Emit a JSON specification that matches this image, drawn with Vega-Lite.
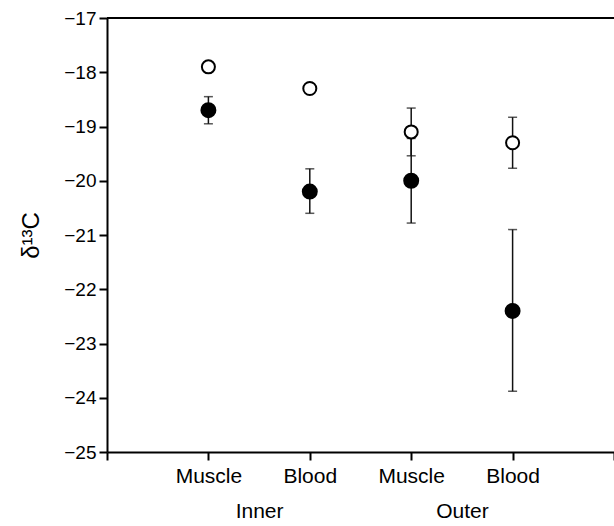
{
  "$schema": "https://vega.github.io/schema/vega-lite/v6.json",
  "width": 507,
  "height": 434,
  "autosize": {"type": "none"},
  "padding": {"left": 107, "top": 18, "right": 0, "bottom": 74},
  "config": {
    "view": {"stroke": null},
    "font": "Liberation Sans",
    "axis": {
      "grid": false,
      "domainColor": "black",
      "domainWidth": 2,
      "tickColor": "black",
      "tickWidth": 2,
      "labelColor": "black",
      "titleColor": "black",
      "titleFontWeight": "normal"
    }
  },
  "datasets": {
    "stats": [
      {"site": "Inner", "tissue": "Muscle", "pos": 1, "type": "open", "mean": -17.9, "lo": -17.96, "hi": -17.84},
      {"site": "Inner", "tissue": "Blood", "pos": 2, "type": "open", "mean": -18.3, "lo": -18.36, "hi": -18.24},
      {"site": "Outer", "tissue": "Muscle", "pos": 3, "type": "open", "mean": -19.1, "lo": -19.54, "hi": -18.66},
      {"site": "Outer", "tissue": "Blood", "pos": 4, "type": "open", "mean": -19.3, "lo": -19.77, "hi": -18.83},
      {"site": "Inner", "tissue": "Muscle", "pos": 1, "type": "filled", "mean": -18.7, "lo": -18.95, "hi": -18.45},
      {"site": "Inner", "tissue": "Blood", "pos": 2, "type": "filled", "mean": -20.2, "lo": -20.6, "hi": -19.78},
      {"site": "Outer", "tissue": "Muscle", "pos": 3, "type": "filled", "mean": -20.0, "lo": -20.78, "hi": -19.22},
      {"site": "Outer", "tissue": "Blood", "pos": 4, "type": "filled", "mean": -22.4, "lo": -23.88, "hi": -20.9}
    ],
    "groups": [
      {"x": 1.5, "group": "Inner"},
      {"x": 3.5, "group": "Outer"}
    ],
    "frame": [{"y": -17}]
  },
  "layer": [
    {
      "data": {"name": "frame"},
      "mark": {"type": "rule", "strokeWidth": 2, "color": "black"},
      "encoding": {
        "y": {
          "field": "y",
          "type": "quantitative",
          "scale": {"domain": [-25, -17], "nice": false, "zero": false},
          "title": "δ¹³C",
          "axis": {
            "values": [-25, -24, -23, -22, -21, -20, -19, -18, -17],
            "tickSize": 8,
            "labelPadding": 3,
            "labelFontSize": 19,
            "titleFontSize": 24,
            "titlePadding": 20
          }
        }
      }
    },
    {
      "data": {"name": "stats"},
      "mark": {
        "type": "errorbar",
        "color": "#111111",
        "ticks": {"size": 9, "thickness": 1.5},
        "rule": {"strokeWidth": 1.5}
      },
      "encoding": {
        "x": {"field": "pos", "type": "quantitative", "scale": {"domain": [0, 5], "nice": false}, "axis": null},
        "y": {"field": "lo", "type": "quantitative", "title": "δ¹³C"},
        "y2": {"field": "hi"}
      }
    },
    {
      "data": {"name": "stats"},
      "mark": {"type": "point", "shape": "circle", "filled": false, "stroke": "black", "strokeWidth": 2, "opacity": 1},
      "encoding": {
        "x": {
          "field": "pos",
          "type": "quantitative",
          "scale": {"domain": [0, 5], "nice": false},
          "title": null,
          "axis": {
            "orient": "bottom",
            "values": [0, 1, 2, 3, 4, 5],
            "labelExpr": "datum.value == 1 || datum.value == 3 ? 'Muscle' : (datum.value == 2 || datum.value == 4 ? 'Blood' : '')",
            "tickSize": 8,
            "labelPadding": 5,
            "labelFontSize": 21
          }
        },
        "y": {"field": "mean", "type": "quantitative", "title": "δ¹³C"},
        "fill": {
          "field": "type",
          "type": "nominal",
          "scale": {"domain": ["filled", "open"], "range": ["black", "white"]},
          "legend": null
        },
        "size": {
          "field": "type",
          "type": "nominal",
          "scale": {"domain": ["filled", "open"], "range": [195, 170]},
          "legend": null
        }
      }
    },
    {
      "data": {"name": "groups"},
      "mark": {"type": "rule", "opacity": 0},
      "encoding": {
        "x": {
          "field": "x",
          "type": "quantitative",
          "scale": {"domain": [0, 5], "nice": false},
          "title": null,
          "axis": {
            "orient": "bottom",
            "values": [1.5, 3.5],
            "labelExpr": "datum.value == 1.5 ? 'Inner' : 'Outer'",
            "domain": false,
            "ticks": false,
            "tickSize": 0,
            "labelPadding": 0,
            "offset": 48,
            "labelFontSize": 21
          }
        }
      }
    }
  ],
  "resolve": {"axis": {"x": "independent"}}
}
